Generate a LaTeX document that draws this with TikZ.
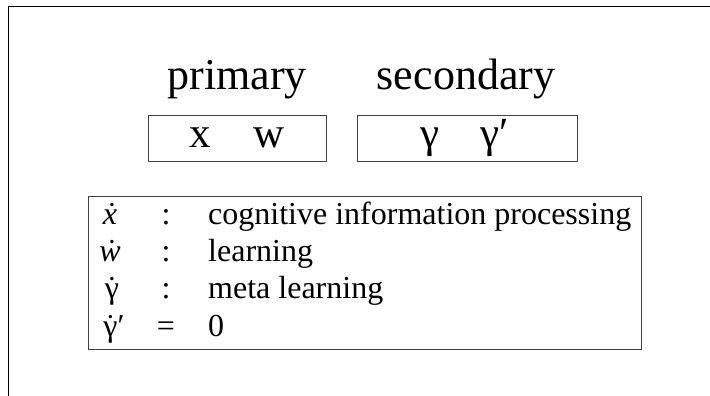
\documentclass[tikz,border=0pt]{standalone}
\usepackage{fontspec}
\setmainfont{Liberation Serif}
\usepackage{tikz}
\newcommand{\dotacc}[1]{{\accent"02D9 #1}}
\tikzset{
  head/.style={font=\fontsize{44}{48}\selectfont, anchor=base, inner sep=0pt},
  varbox/.style={draw=black!75, line width=1pt},
  var/.style={font=\fontsize{43}{47}\selectfont, anchor=base, inner sep=0pt},
  item/.style={font=\fontsize{32}{36}\selectfont, anchor=base, inner sep=0pt},
  desc/.style={font=\fontsize{32}{36}\selectfont, anchor=base west, inner sep=0pt}
}
\begin{document}
\begin{tikzpicture}[x=1pt, y=-1pt]
  \useasboundingbox (0,0) rectangle (710,396);
  % Frame
  \draw[line width=1pt] (8,396) -- (8,7) -- (710,7);
  % Headings
  \node[head] (prim) at (237,89) {primary};
  \node[head] (sec) at (466,89) {secondary};
  % Variable boxes
  \draw[varbox] (148,115) rectangle (326,161);
  \draw[varbox] (357,115) rectangle (577,161);
  \node[var] (x) at (200,147) {x};
  \node[var] (w) at (269,147) {w};
  \node[var] (g) at (430,147) {γ};
  \node[var] (gp) at (495,147) {γ′};
  % Dynamics
  \draw[varbox] (88,196) rectangle (641,349);
  \node[item] (dx) at (110,224) {\textit{\dotacc{x}}};
  \node[item] (c1) at (166,224) {:};
  \node[desc] (t1) at (208,224) {cognitive information processing};
  \node[item] (dw) at (110,261) {\textit{\dotacc{w}}};
  \node[item] (c2) at (166,261) {:};
  \node[desc] (t2) at (208,261) {learning};
  \node[item] (dg) at (112,298) {\dotacc{γ}};
  \node[item] (c3) at (166,298) {:};
  \node[desc] (t3) at (208,298) {meta learning};
  \node[item] (dgp) at (114,336) {\dotacc{γ}′};
  \node[item] (eq) at (166,336) {=};
  \node[desc] (t4) at (208,336) {0};
\end{tikzpicture}
\end{document}
